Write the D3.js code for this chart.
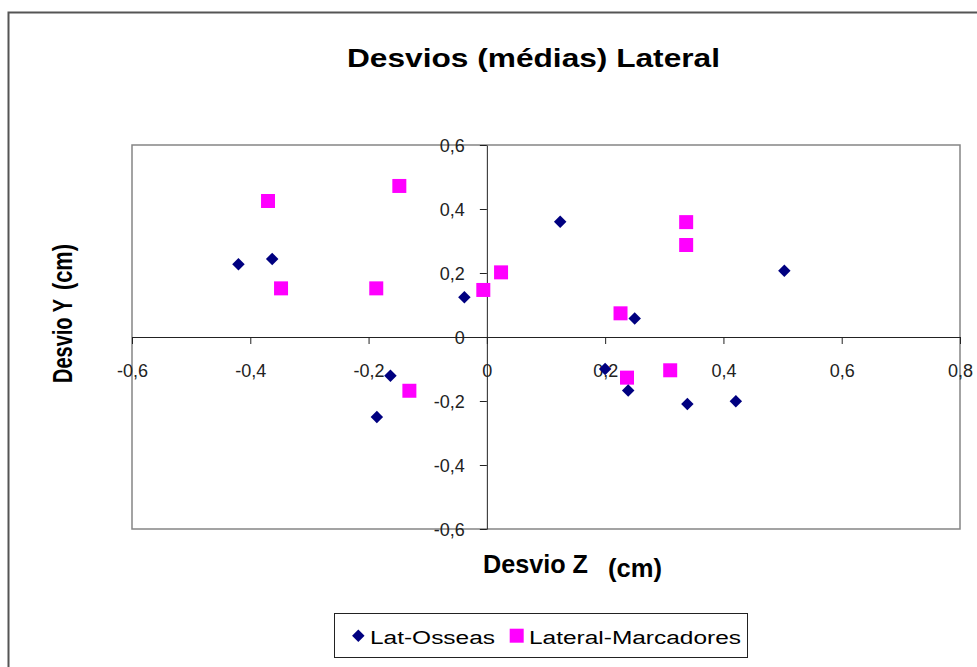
<!DOCTYPE html>
<html>
<head>
<meta charset="utf-8">
<script src="https://cdn.jsdelivr.net/npm/d3@7"></script>
<style>
  html, body { margin: 0; padding: 0; background: #fff; }
  svg { display: block; font-family: "Liberation Sans", Arial, sans-serif; }
</style>
</head>
<body>
<svg id="chart" width="977" height="667"></svg>
<script>
// ---- data ----
const seriesNames = ["Lat-Osseas", "Lateral-Marcadores"];
const latOsseasZ = [-0.42, -0.363, -0.038, 0.124, 0.250, 0.503, -0.163, -0.186, 0.200, 0.239, 0.339, 0.421];
const latOsseasY = [0.227, 0.244, 0.124, 0.360, 0.058, 0.207, -0.121, -0.250, -0.100, -0.167, -0.209, -0.201];
const marcadoresZ = [-0.370, -0.148, -0.348, -0.187, -0.006, 0.024, 0.337, 0.337, 0.226, -0.131, 0.237, 0.310];
const marcadoresY = [0.425, 0.472, 0.152, 0.152, 0.147, 0.202, 0.359, 0.2875, 0.074, -0.168, -0.127, -0.104];
const xTicks = [-0.6, -0.4, -0.2, 0, 0.2, 0.4, 0.6, 0.8];
const yTicks = [-0.6, -0.4, -0.2, 0, 0.2, 0.4, 0.6];
const titleText = "Desvios (médias) Lateral";
const xTitle = ["Desvio Z", "(cm)"];
const yTitle = ["Desvio Y", "(cm)"];

const navy = "#000080", magenta = "#FF00FF";
const svg = d3.select("#chart");

// outer chart border
svg.append("rect").attr("x", 8.5).attr("y", 12.5).attr("width", 1000).attr("height", 700)
  .attr("fill", "none").attr("stroke", "#555").attr("stroke-width", 2);

const x = d3.scaleLinear().domain([-0.6, 0.8]).range([132, 960]);
const y = d3.scaleLinear().domain([-0.6, 0.6]).range([529, 145]);
const tickFmt = d => (d === 0 ? "0" : d3.format(".1f")(d).replace("\u2212", "-").replace(".", ","));

// plot area border
svg.append("rect").attr("x", x(-0.6)).attr("y", y(0.6))
  .attr("width", x(0.8) - x(-0.6)).attr("height", y(-0.6) - y(0.6))
  .attr("fill", "none").attr("stroke", "#858585").attr("stroke-width", 1.5);

// x axis
const gx = svg.append("g").attr("transform", `translate(0,${y(0)})`)
  .call(d3.axisBottom(x).tickValues(xTicks).tickSize(7).tickSizeOuter(0).tickFormat(tickFmt));
gx.select(".domain").attr("stroke", "#222");
gx.selectAll(".tick line").attr("stroke", "#222");
gx.selectAll(".tick text").attr("y", 40).attr("dy", 0)
  .attr("font-size", 18).attr("fill", "#222").attr("font-family", "Liberation Sans, Arial");

// y axis
const gy = svg.append("g").attr("transform", `translate(${x(0)},0)`)
  .call(d3.axisLeft(y).tickValues(yTicks).tickSize(7).tickSizeOuter(0).tickFormat(tickFmt));
gy.select(".domain").attr("stroke", "#222");
gy.selectAll(".tick line").attr("stroke", "#222");
gy.selectAll(".tick text").attr("x", -22).attr("dy", "0.36em")
  .attr("font-size", 18).attr("fill", "#222").attr("font-family", "Liberation Sans, Arial");

// markers
const diamond = d3.symbol().type(d3.symbolSquare).size(78);
const square = d3.symbol().type(d3.symbolSquare).size(196);
svg.append("g").selectAll("path").data(marcadoresZ.map((z, i) => [z, marcadoresY[i]]))
  .join("path").attr("d", square)
  .attr("transform", d => `translate(${x(d[0])},${y(d[1])})`)
  .attr("fill", magenta);
svg.append("g").selectAll("path").data(latOsseasZ.map((z, i) => [z, latOsseasY[i]]))
  .join("path").attr("d", diamond)
  .attr("transform", d => `translate(${x(d[0])},${y(d[1])}) rotate(45)`)
  .attr("fill", navy);

// title
svg.append("text").attr("x", 347).attr("y", 67).text(titleText)
  .attr("font-size", 25).attr("font-weight", "bold").attr("fill", "#000")
  .attr("textLength", 373).attr("lengthAdjust", "spacingAndGlyphs");

// x title
svg.append("text").attr("x", 483).attr("y", 573).text(xTitle[0])
  .attr("font-size", 25).attr("font-weight", "bold")
  .attr("textLength", 105).attr("lengthAdjust", "spacingAndGlyphs");
svg.append("text").attr("x", 608).attr("y", 576.5).text(xTitle[1])
  .attr("font-size", 25).attr("font-weight", "bold")
  .attr("textLength", 54).attr("lengthAdjust", "spacingAndGlyphs");

// y title
svg.append("text").attr("transform", "translate(72,383) rotate(-90)").text(yTitle[0])
  .attr("font-size", 27).attr("font-weight", "bold")
  .attr("textLength", 84).attr("lengthAdjust", "spacingAndGlyphs");
svg.append("text").attr("transform", "translate(72,290) rotate(-90)").text(yTitle[1])
  .attr("font-size", 27).attr("font-weight", "bold")
  .attr("textLength", 46).attr("lengthAdjust", "spacingAndGlyphs");

// legend
const lg = svg.append("g");
lg.append("rect").attr("x", 334.5).attr("y", 613.5).attr("width", 413).attr("height", 44)
  .attr("fill", "#fff").attr("stroke", "#222").attr("stroke-width", 1);
lg.append("path").attr("d", diamond).attr("transform", "translate(358.3,635.7) rotate(45)").attr("fill", navy);
lg.append("text").attr("x", 370).attr("y", 644).text(seriesNames[0]).attr("font-size", 18)
  .attr("textLength", 125).attr("lengthAdjust", "spacingAndGlyphs");
lg.append("path").attr("d", square).attr("transform", "translate(516.7,635.7)").attr("fill", magenta);
lg.append("text").attr("x", 529).attr("y", 644).text(seriesNames[1]).attr("font-size", 18)
  .attr("textLength", 212).attr("lengthAdjust", "spacingAndGlyphs");
</script>
</body>
</html>
